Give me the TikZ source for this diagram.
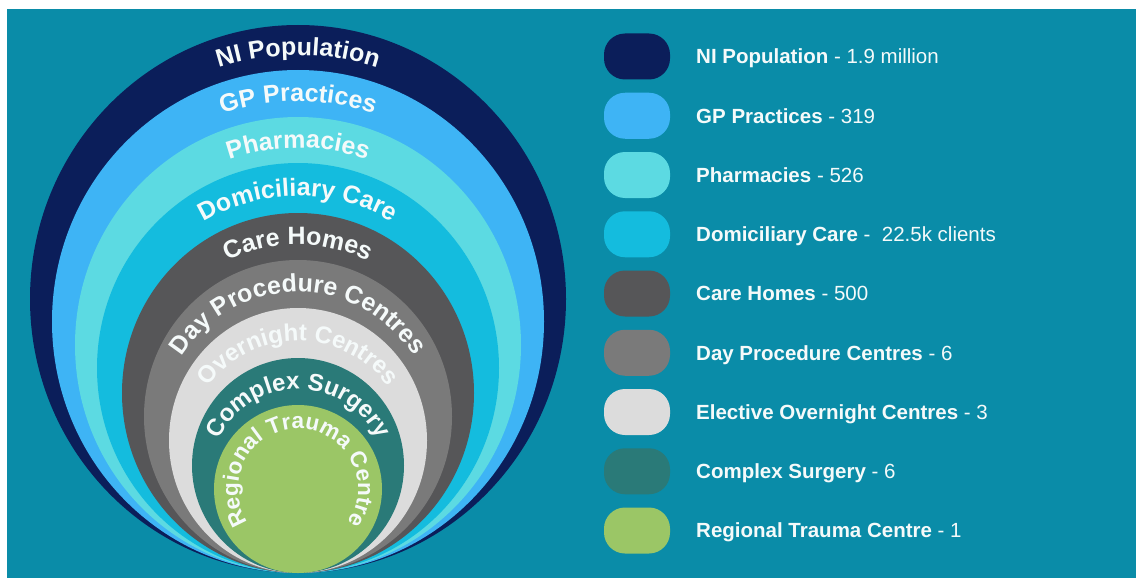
\documentclass[tikz,border=0pt]{standalone}
\usepackage{fontspec}
\setmainfont{Liberation Sans}
\usetikzlibrary{decorations.text}

% palette
\definecolor{bgteal}{RGB}{10,140,168}
\definecolor{cpop}{RGB}{11,30,90}
\definecolor{cgp}{RGB}{62,180,245}
\definecolor{cpharm}{RGB}{92,218,226}
\definecolor{cdom}{RGB}{20,188,222}
\definecolor{ccare}{RGB}{86,86,88}
\definecolor{cday}{RGB}{122,122,122}
\definecolor{cnight}{RGB}{220,220,220}
\definecolor{csurg}{RGB}{42,122,120}
\definecolor{ctrauma}{RGB}{155,198,102}
\definecolor{ctext}{RGB}{245,250,250}

\newcommand\ringfont{\fontsize{25}{30}\selectfont\bfseries}
\newcommand\ringfontsm{\fontsize{24}{29}\selectfont\bfseries}
\newcommand\corefont{\fontsize{22.5}{27}\selectfont\bfseries}

\begin{document}
\begin{tikzpicture}[x=1pt,y=1pt,
  ringlabel/.style={decorate, decoration={text along path, text align=center,
      text color=ctext, text={#1}}},
  swatch/.style={rounded corners=21pt, minimum width=66pt, minimum height=46pt,
      inner sep=0pt, draw=none},
  legend/.style={anchor=base west, inner sep=0pt, text=ctext,
      font=\fontsize{20.5}{24}\selectfont}]

% canvas
\useasboundingbox (0,0) rectangle (1136,-578);
\fill[white] (0,0) rectangle (1136,-578);
\fill[bgteal] (7,-9) rectangle (1136,-578);

% nested rings, all touching at the bottom point
\fill[cpop]    (298,-299)   ellipse [x radius=268, y radius=274];
\fill[cgp]     (298,-321.5) ellipse [x radius=246, y radius=251.5];
\fill[cpharm]  (298,-345)   ellipse [x radius=223, y radius=228];
\fill[cdom]    (298,-368)   ellipse [x radius=201, y radius=205];
\fill[ccare]   (298,-393)   ellipse [x radius=176, y radius=180];
\fill[cday]    (298,-416.5) ellipse [x radius=154, y radius=156.5];
\fill[cnight]  (298,-440.5) ellipse [x radius=129, y radius=132.5];
\fill[csurg]   (298,-465.5) ellipse [x radius=106, y radius=107.5];
\fill[ctrauma] (298,-489)   ellipse [x radius=84,  y radius=84];

% curved ring labels
\path[ringlabel={|\ringfont|NI Population}]
  ([shift={(160:255)}]298,-310.25) arc[start angle=160, end angle=20, radius=255];
\path[ringlabel={|\ringfont|GP Practices}]
  ([shift={(160:232)}]298,-333.25) arc[start angle=160, end angle=20, radius=232];
\path[ringlabel={|\ringfont|Pharmacies}]
  ([shift={(165:208.5)}]298,-356.5) arc[start angle=165, end angle=15, radius=208.5];
\path[ringlabel={|\ringfont|Domiciliary Care}]
  ([shift={(170:184.5)}]298,-380.5) arc[start angle=170, end angle=10, radius=184.5];
\path[ringlabel={|\ringfont|Care Homes}]
  ([shift={(175:160)}]298,-404.75) arc[start angle=175, end angle=5, radius=160];
\path[ringlabel={|\ringfont|Day Procedure Centres}]
  ([shift={(200:136.5)}]298,-428.5) arc[start angle=200, end angle=-20, radius=136.5];
\path[ringlabel={|\ringfontsm|Overnight Centres}]
  ([shift={(200:112)}]298,-453) arc[start angle=200, end angle=-20, radius=112];
\path[ringlabel={|\ringfontsm|Complex Surgery}]
  ([shift={(210:88)}]298,-477.25) arc[start angle=210, end angle=-30, radius=88];
\path[ringlabel={|\corefont|Regional Trauma Centre}]
  ([shift={(265:60)}]298,-489) arc[start angle=265, end angle=-85, radius=60];

% legend
\node[swatch, fill=cpop]    (s1) at (637,-56.5)  {};
\node[swatch, fill=cgp]     (s2) at (637,-115.75) {};
\node[swatch, fill=cpharm]  (s3) at (637,-175)   {};
\node[swatch, fill=cdom]    (s4) at (637,-234.25) {};
\node[swatch, fill=ccare]   (s5) at (637,-293.5) {};
\node[swatch, fill=cday]    (s6) at (637,-352.75) {};
\node[swatch, fill=cnight]  (s7) at (637,-412)   {};
\node[swatch, fill=csurg]   (s8) at (637,-471.25) {};
\node[swatch, fill=ctrauma] (s9) at (637,-530.5) {};

\node[legend] (t1) at (696,-63.8)  {\textbf{NI Population} - 1.9 million};
\node[legend] (t2) at (696,-123.05) {\textbf{GP Practices} - 319};
\node[legend] (t3) at (696,-182.3) {\textbf{Pharmacies} - 526};
\node[legend] (t4) at (696,-241.55) {\textbf{Domiciliary Care} - \ 22.5k clients};
\node[legend] (t5) at (696,-300.8) {\textbf{Care Homes} - 500};
\node[legend] (t6) at (696,-360.05) {\textbf{Day Procedure Centres} - 6};
\node[legend] (t7) at (696,-419.3) {\textbf{Elective Overnight Centres} - 3};
\node[legend] (t8) at (696,-478.55) {\textbf{Complex Surgery} - 6};
\node[legend] (t9) at (696,-537.8) {\textbf{Regional Trauma Centre} - 1};
\end{tikzpicture}
\end{document}
